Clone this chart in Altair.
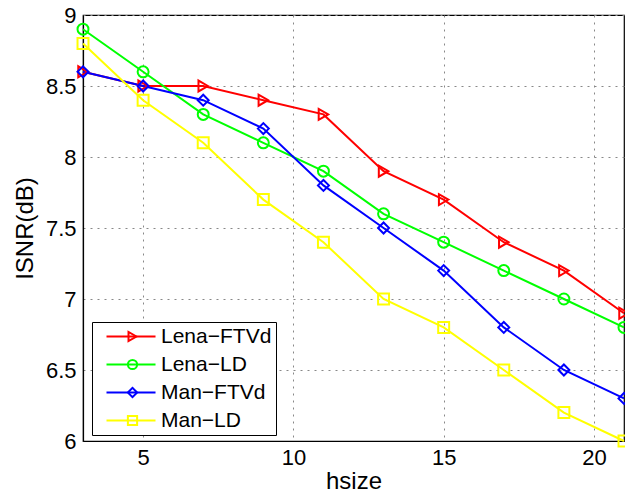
import altair as alt
import pandas as pd

hsize = [3, 5, 7, 9, 11, 13, 15, 17, 19, 21]
lena_ftvd = [8.6, 8.5, 8.5, 8.4, 8.3, 7.9, 7.7, 7.4, 7.2, 6.9]
lena_ld = [8.9, 8.6, 8.3, 8.1, 7.9, 7.6, 7.4, 7.2, 7.0, 6.8]
man_ftvd = [8.6, 8.5, 8.4, 8.2, 7.8, 7.5, 7.2, 6.8, 6.5, 6.3]
man_ld = [8.8, 8.4, 8.1, 7.7, 7.4, 7.0, 6.8, 6.5, 6.2, 6.0]
series_names = ["Lena−FTVd", "Lena−LD", "Man−FTVd", "Man−LD"]
series_colors = ["#ff0000", "#00ff00", "#0000ff", "#ffff00"]
series_shapes = ["triangle-right", "circle", "diamond", "square"]
x_ticks = [5, 10, 15, 20]
y_ticks = [6, 6.5, 7, 7.5, 8, 8.5, 9]

# the line legend uses a separate (visually identical) domain so that it is not merged
line_names = [n + " " for n in series_names]

rows = []
for name, lname, vals in zip(series_names, line_names, [lena_ftvd, lena_ld, man_ftvd, man_ld]):
    for i, (h, v) in enumerate(zip(hsize, vals)):
        rows.append({"series": name, "line_series": lname, "hsize": h, "isnr": v, "idx": i})
df = pd.DataFrame(rows)

FONT = "Liberation Sans"

x_enc = alt.X("hsize:Q", scale=alt.Scale(domain=[3, 21], nice=False, zero=False),
              axis=alt.Axis(values=x_ticks, title="hsize", format="d"))
y_enc = alt.Y("isnr:Q", scale=alt.Scale(domain=[6, 9], nice=False, zero=False),
              axis=alt.Axis(values=y_ticks, title="ISNR(dB)", format="~g"))

line_legend = alt.Legend(orient="none", legendX=9, legendY=307, title=None,
                         symbolType="M0,0H8.17", symbolSize=144,
                         symbolStrokeWidth=2, labelFontSize=21,
                         labelFont=FONT, labelColor="black",
                         strokeColor="black", fillColor="white",
                         padding=4, rowPadding=6, labelOffset=44, zindex=1)

shape_legend = alt.Legend(orient="none", legendX=39, legendY=311, title=None,
                          symbolSize=85, symbolStrokeWidth=2, symbolFillColor="transparent",
                          labelExpr="''", labelFontSize=21, labelFont=FONT,
                          rowPadding=6, padding=0, zindex=2)

lines = alt.Chart(df).mark_line(strokeWidth=2).encode(
    x=x_enc, y=y_enc,
    stroke=alt.Stroke("line_series:N",
                      scale=alt.Scale(domain=line_names, range=series_colors),
                      legend=line_legend),
    order="idx:Q",
)

points = alt.Chart(df).mark_point(filled=False, strokeWidth=2, size=120, opacity=1).encode(
    x=x_enc, y=y_enc,
    color=alt.Color("series:N", scale=alt.Scale(domain=series_names, range=series_colors),
                    legend=shape_legend),
    shape=alt.Shape("series:N", scale=alt.Scale(domain=series_names, range=series_shapes),
                    legend=shape_legend),
)

chart = alt.layer(lines, points).properties(
    width=541, height=426,
    padding={"left": 83, "top": 15, "right": 1, "bottom": 55},
    autosize="none",
).configure_view(stroke="black", strokeWidth=1.2).configure_axis(
    labelFont=FONT, titleFont=FONT, labelFontSize=22, titleFontSize=24,
    labelColor="black", titleColor="black", titleFontWeight="normal",
    domainColor="black", domainWidth=1.2, tickSize=0,
    grid=True, gridColor="#888888", gridDash=[2, 5], gridWidth=1,
).configure_axisX(labelPadding=6, titlePadding=1).configure_axisY(
    labelPadding=7, titlePadding=8)

chart.save("out.html", embed_options={"renderer": "svg", "actions": False})
